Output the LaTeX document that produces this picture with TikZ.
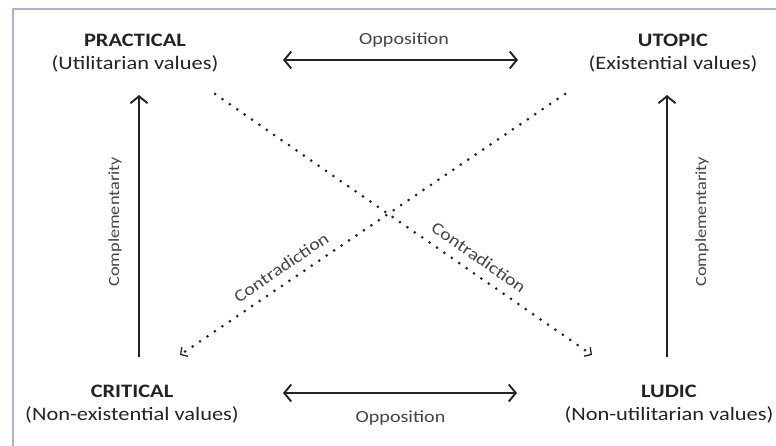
\documentclass[tikz,border=0pt]{standalone}
\usepackage{fontspec}
\setmainfont{Carlito}[FakeStretch=1.18]
\usetikzlibrary{arrows.meta}

\definecolor{framegray}{RGB}{170,180,205}
\definecolor{inkgray}{RGB}{35,35,35}

\tikzset{
    corner/.style={align=center, text=inkgray, font=\fontsize{19}{23}\selectfont},
    note/.style={text=inkgray!85, font=\fontsize{17}{20}\selectfont},
    sidenote/.style={text=inkgray!85, font=\fontsize{15.5}{18}\selectfont},
    duo/.style={draw=inkgray, line width=1.9pt, {Straight Barb[length=7pt,width=17pt]}-{Straight Barb[length=7pt,width=17pt]}},
    upward/.style={draw=inkgray, line width=1.9pt, -{Straight Barb[length=7pt,width=17pt]}},
    dotline/.style={draw=inkgray, line width=3pt, line cap=round, dash pattern=on 0pt off 9pt, -{Straight Barb[length=5pt,width=11pt,line width=1.3pt]}}
}

\begin{document}
\begin{tikzpicture}[x=1pt,y=-1pt]

\useasboundingbox (0,0) rectangle (776,446);
\draw[framegray, line width=1.8pt] (780,9) -- (13,9) -- (13,450);

\node[corner] (prac) at (135,53.5) {\textbf{PRACTICAL}\\(Utilitarian values)};
\node[corner] (utop) at (673,53.5) {\textbf{UTOPIC}\\(Existential values)};
\node[corner] (crit) at (132,404) {\textbf{CRITICAL}\\(Non-existential values)};
\node[corner] (ludic) at (669,404) {\textbf{LUDIC}\\(Non-utilitarian values)};

% opposition
\draw[duo, shorten <=148pt, shorten >=155pt] ([yshift=-6.5pt]prac.center) -- node[note, midway, yshift=20pt] (opptop) {Opposition} ([yshift=-6.5pt]utop.center);
\draw[duo, shorten <=151pt, shorten >=152pt] ([yshift=11pt]crit.center) -- node[note, midway, yshift=-25pt] (oppbot) {Opposition} ([yshift=11pt]ludic.center);

% complementarity
\draw[upward, shorten <=47pt, shorten >=41.5pt] ([xshift=7pt]crit.center) -- node[sidenote, pos=0.52, xshift=-24pt, rotate=90] (compl) {Complementarity} ([xshift=4pt]prac.center);
\draw[upward, shorten <=47pt, shorten >=41.5pt] ([xshift=-2pt]ludic.center) -- node[sidenote, pos=0.52, xshift=35pt, rotate=90] (compr) {Complementarity} ([xshift=-6pt]utop.center);

% contradiction
\draw[dotline] ([shift={(80,40.5)}]prac.center) -- node[note, pos=0.676, sloped, above=5pt] (contr) {Contradiction} ([shift={(-77,-49)}]ludic.center);
\draw[dotline] ([shift={(-108,40.5)}]utop.center) -- node[note, pos=0.714, sloped, above=5pt] (contl) {Contradiction} ([shift={(48,-49)}]crit.center);

\end{tikzpicture}
\end{document}
